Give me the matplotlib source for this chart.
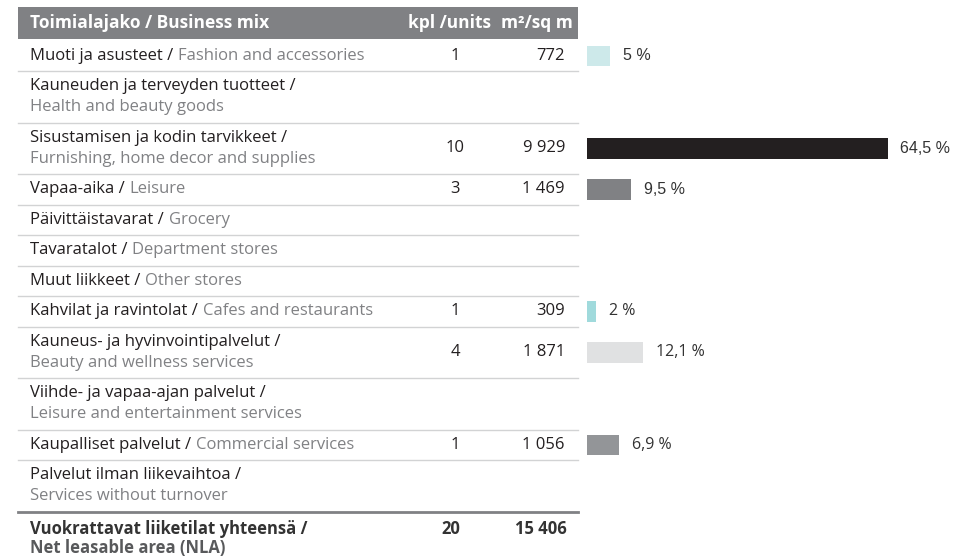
import matplotlib.pyplot as plt
from matplotlib.patches import Rectangle

# table content
fi_names = [
    "Muoti ja asusteet /", "Kauneuden ja terveyden tuotteet /",
    "Sisustamisen ja kodin tarvikkeet /", "Vapaa-aika /",
    "Päivittäistavarat /", "Tavaratalot /", "Muut liikkeet /",
    "Kahvilat ja ravintolat /", "Kauneus- ja hyvinvointipalvelut /",
    "Viihde- ja vapaa-ajan palvelut /", "Kaupalliset palvelut /",
    "Palvelut ilman liikevaihtoa /",
]
en_names = [
    "Fashion and accessories", "Health and beauty goods",
    "Furnishing, home decor and supplies", "Leisure", "Grocery",
    "Department stores", "Other stores", "Cafes and restaurants",
    "Beauty and wellness services", "Leisure and entertainment services",
    "Commercial services", "Services without turnover",
]
two_line = [False, True, True, False, False, False, False, False, True, True, False, True]
units = [1, None, 10, 3, None, None, None, 1, 4, None, 1, None]
area = [772, None, 9929, 1469, None, None, None, 309, 1871, None, 1056, None]
share = [5, None, 64.5, 9.5, None, None, None, 2, 12.1, None, 6.9, None]
bar_colors = ["#cde9ea", None, "#231f20", "#808184", None, None, None,
              "#a0dadc", "#e0e1e2", None, "#939598", None]
total_fi = "Vuokrattavat liiketilat yhteensä /"
total_en = "Net leasable area (NLA)"
total_units = 20
total_area = 15406

W, H = 964, 557
plt.rcParams["font.family"] = ["Open Sans", "DejaVu Sans"]
fig = plt.figure(figsize=(W / 100, H / 100), dpi=100)
ax = fig.add_axes([0, 0, 1, 1])
ax.set_xlim(0, W)
ax.set_ylim(H, 0)
ax.axis("off")

fs = 12
fs_head = 12.5
dark = "#231f20"
grey = "#808184"
x0, x1 = 18, 578
x_text = 30
x_units = 455
x_area = 565


def fmt_num(v):
    return f"{v:,}".replace(",", " ")


def fmt_pct(v):
    return f"{v:g}".replace(".", ",") + " %"


# header
ax.add_patch(Rectangle((x0, 7), x1 - x0, 32, color=grey, lw=0))
ax.text(x_text, 23, "Toimialajako / Business mix", color="white", fontsize=fs_head,
        fontweight="bold", va="center", ha="left")
ax.text(x_units - 5, 23, "kpl /units", color="white", fontsize=fs_head,
        fontweight="bold", va="center", ha="center")
ax.text(x_area + 8, 23, "m²/sq m", color="white", fontsize=fs_head,
        fontweight="bold", va="center", ha="right")

y = 40.5
centers = []
for i in range(len(fi_names)):
    h = 51.5 if two_line[i] else 30.5
    cy = y + h / 2
    centers.append(cy)
    if two_line[i]:
        ax.text(x_text, cy - 10.5, fi_names[i], color=dark, fontsize=fs, va="center")
        ax.text(x_text, cy + 10.5, en_names[i], color=grey, fontsize=fs, va="center")
    else:
        t = ax.text(x_text, cy, fi_names[i], color=dark, fontsize=fs, va="center")
        ax.annotate(en_names[i], xy=(1, 0), xycoords=t, xytext=(3.5, 0),
                    textcoords="offset points", color=grey, fontsize=fs,
                    va="bottom", ha="left")
    if units[i] is not None:
        ax.text(x_units, cy, str(units[i]), color=dark, fontsize=fs,
                va="center", ha="center")
    if area[i] is not None:
        ax.text(x_area, cy, fmt_num(area[i]), color=dark, fontsize=fs,
                va="center", ha="right")
    y += h
    if i < len(fi_names) - 1:
        ax.plot([x0, x1], [y, y], color="#d2d3d4", lw=1)
    else:
        ax.plot([x0, x1], [y, y], color=grey, lw=2)

# total row
cy = y + 27
ax.text(x_text, cy - 10, total_fi, color="#333333", fontsize=fs,
        fontweight="bold", va="center")
ax.text(x_text, cy + 10, total_en, color="#58595b", fontsize=fs,
        fontweight="bold", va="center")
ax.text(x_units - 4, cy - 10, str(total_units), color="#333333", fontsize=fs,
        fontweight="bold", va="center", ha="center")
ax.text(x_area + 2, cy - 10, fmt_num(total_area), color="#333333", fontsize=fs,
        fontweight="bold", va="center", ha="right")

# bars
bx0 = 587
scale = 4.66
axb = fig.add_axes([bx0 / W, 0, (W - bx0) / W, 1])
axb.set_ylim(H, 0)
axb.set_xlim(0, (W - bx0) / scale)
axb.axis("off")
for i, v in enumerate(share):
    if v is None:
        continue
    axb.barh(centers[i], v, height=20.5, color=bar_colors[i], lw=0)
    fam = ["Liberation Sans"] if i < 4 else ["Open Sans"]
    axb.annotate(fmt_pct(v), xy=(v, centers[i]), xytext=(9, 0),
                 textcoords="offset points", va="center", ha="left",
                 fontsize=11.5, color="#333333", family=fam)

fig.savefig("out.png", dpi=100)
